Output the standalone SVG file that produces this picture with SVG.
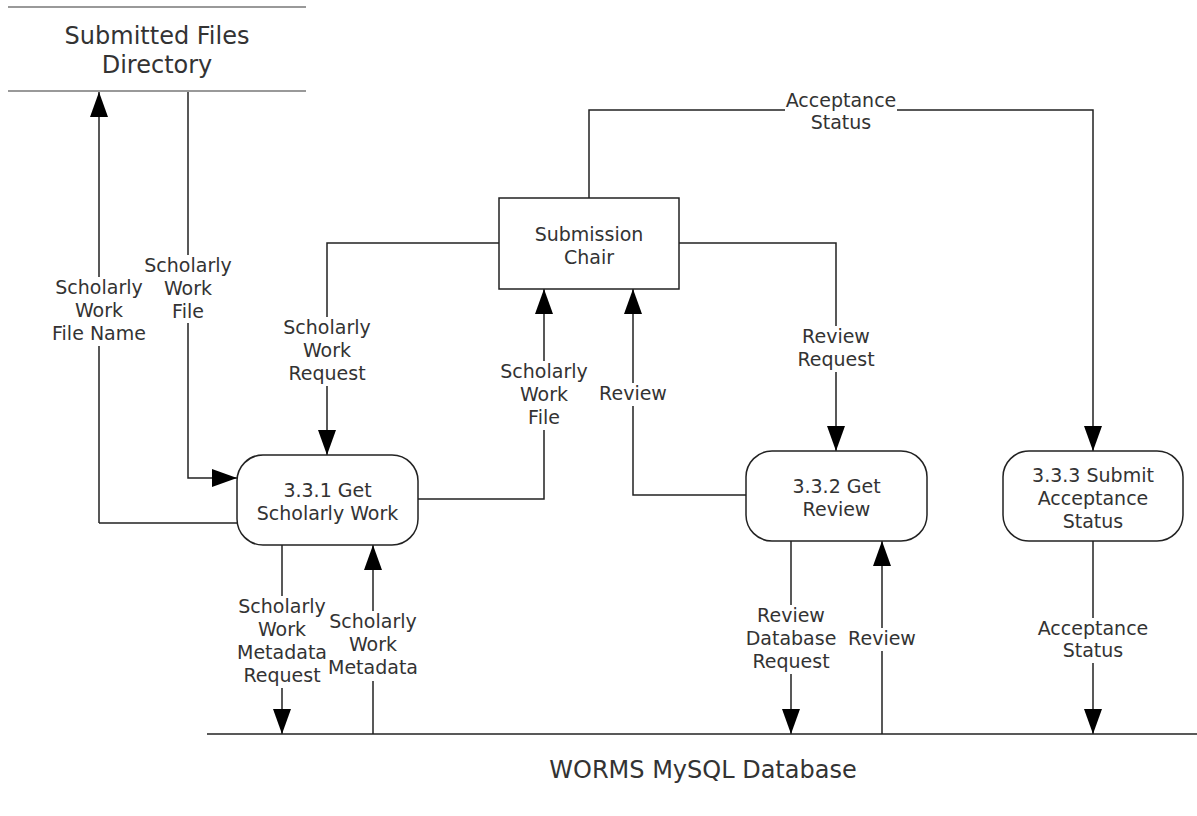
<svg xmlns="http://www.w3.org/2000/svg" width="1197" height="816" viewBox="0 0 1197 816">
<style>
text{font-family:"DejaVu Sans","Liberation Sans",sans-serif;fill:#333;text-anchor:middle}
.lbl{font-size:19px}
.nt{font-size:19px}
.big{font-size:24px}
.node{fill:#fff;stroke:#222;stroke-width:1.5}
.con{fill:none;stroke:#222;stroke-width:1.5}
.store{stroke:#999;stroke-width:2}
.bg{fill:#fff}
</style>
<defs>
<marker id="ah" markerUnits="userSpaceOnUse" markerWidth="25" markerHeight="18" refX="25" refY="9" orient="auto">
<path d="M0,0 L25,9 L0,18 z" fill="#000"/>
</marker>
</defs>
<g id="connectors">
<path class="con" d="M99,523 H237 M99,523 V92" marker-end="url(#ah)"/>
<path class="con" d="M188,92 V478 H237" marker-end="url(#ah)"/>
<path class="con" d="M499,243 H327 V455" marker-end="url(#ah)"/>
<path class="con" d="M418,499 H544 V289" marker-end="url(#ah)"/>
<path class="con" d="M746,495 H633 V289" marker-end="url(#ah)"/>
<path class="con" d="M679,243 H836 V451" marker-end="url(#ah)"/>
<path class="con" d="M589,198 V110 H1093 V451" marker-end="url(#ah)"/>
<path class="con" d="M282,545 V734" marker-end="url(#ah)"/>
<path class="con" d="M373,734 V545" marker-end="url(#ah)"/>
<path class="con" d="M791,541 V734" marker-end="url(#ah)"/>
<path class="con" d="M882,734 V541" marker-end="url(#ah)"/>
<path class="con" d="M1093,541 V734" marker-end="url(#ah)"/>
<g id="labels">
<rect class="bg" x="51" y="277" width="96" height="69"/>
<text class="lbl" x="99" y="294">Scholarly</text><text class="lbl" x="99" y="317">Work</text><text class="lbl" x="99" y="340">File Name</text>
<rect class="bg" x="144" y="255" width="88" height="68"/>
<text class="lbl" x="188" y="272">Scholarly</text><text class="lbl" x="188" y="295">Work</text><text class="lbl" x="188" y="318">File</text>
<rect class="bg" x="283" y="317" width="88" height="69"/>
<text class="lbl" x="327" y="334">Scholarly</text><text class="lbl" x="327" y="357">Work</text><text class="lbl" x="327" y="380">Request</text>
<rect class="bg" x="500" y="361" width="88" height="69"/>
<text class="lbl" x="544" y="378">Scholarly</text><text class="lbl" x="544" y="401">Work</text><text class="lbl" x="544" y="424">File</text>
<rect class="bg" x="600" y="383" width="66" height="23"/>
<text class="lbl" x="633" y="400">Review</text>
<rect class="bg" x="795" y="326" width="82" height="46"/>
<text class="lbl" x="836" y="343">Review</text><text class="lbl" x="836" y="366">Request</text>
<rect class="bg" x="785" y="90" width="112" height="45"/>
<text class="lbl" x="841" y="107">Acceptance</text><text class="lbl" x="841" y="129">Status</text>
<rect class="bg" x="238" y="596" width="88" height="92"/>
<text class="lbl" x="282" y="613">Scholarly</text><text class="lbl" x="282" y="636">Work</text><text class="lbl" x="282" y="659">Metadata</text><text class="lbl" x="282" y="682">Request</text>
<rect class="bg" x="329" y="611" width="90" height="70"/>
<text class="lbl" x="373" y="628">Scholarly</text><text class="lbl" x="373" y="651">Work</text><text class="lbl" x="373" y="674">Metadata</text>
<rect class="bg" x="745" y="605" width="92" height="69"/>
<text class="lbl" x="791" y="622">Review</text><text class="lbl" x="791" y="645">Database</text><text class="lbl" x="791" y="668">Request</text>
<rect class="bg" x="849" y="628" width="66" height="23"/>
<text class="lbl" x="882" y="645">Review</text>
<rect class="bg" x="1037" y="618" width="112" height="45"/>
<text class="lbl" x="1093" y="635">Acceptance</text><text class="lbl" x="1093" y="657">Status</text>
</g>
</g>
<g id="submitted-files-directory">
<line class="store" x1="8" y1="7" x2="306" y2="7"/>
<line class="store" x1="8" y1="91" x2="306" y2="91"/>
<text class="big" x="157" y="44">Submitted Files</text>
<text class="big" x="157" y="73">Directory</text>
</g>
<g id="submission-chair">
<rect class="node" x="499" y="198" width="180" height="91"/>
<text class="nt" x="589" y="241">Submission</text>
<text class="nt" x="589" y="264">Chair</text>
</g>
<g id="p331">
<rect class="node" x="237" y="455" width="181" height="90" rx="26" ry="26"/>
<text class="nt" x="327.5" y="497">3.3.1 Get</text>
<text class="nt" x="327.5" y="520">Scholarly Work</text>
</g>
<g id="p332">
<rect class="node" x="746" y="451" width="181" height="90" rx="26" ry="26"/>
<text class="nt" x="836.5" y="493">3.3.2 Get</text>
<text class="nt" x="836.5" y="516">Review</text>
</g>
<g id="p333">
<rect class="node" x="1003" y="451" width="180" height="90" rx="26" ry="26"/>
<text class="nt" x="1093" y="482">3.3.3 Submit</text>
<text class="nt" x="1093" y="505">Acceptance</text>
<text class="nt" x="1093" y="528">Status</text>
</g>
<g id="worms-db">
<line x1="207" y1="734" x2="1197" y2="734" stroke="#222" stroke-width="1.5"/>
<text class="big" x="703" y="778">WORMS MySQL Database</text>
</g>
</svg>
